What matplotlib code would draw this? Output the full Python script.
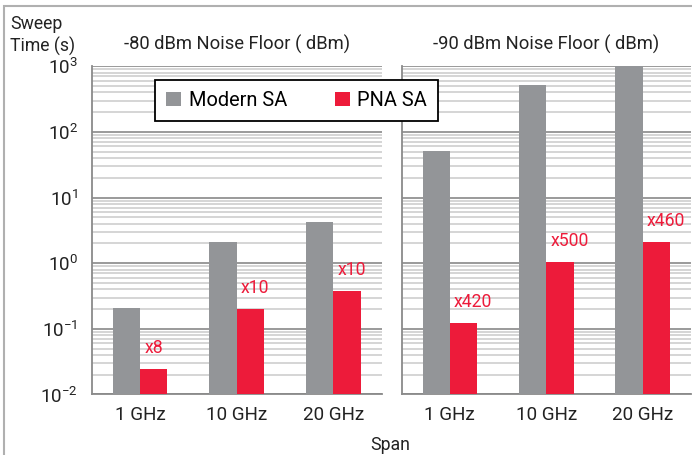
import matplotlib.pyplot as plt
import numpy as np
from matplotlib.ticker import LogLocator, FuncFormatter
from matplotlib.patches import Rectangle

plt.rcParams['font.family'] = ['Roboto', 'DejaVu Sans']
plt.rcParams['mathtext.fontset'] = 'custom'
plt.rcParams['mathtext.rm'] = 'Roboto'
plt.rcParams['mathtext.it'] = 'Roboto'

spans = ['1 GHz', '10 GHz', '20 GHz']
titles = ['-80 dBm Noise Floor ( dBm)', '-90 dBm Noise Floor ( dBm)']
modern = [[0.21, 2.1, 4.2], [51, 525, 1000]]
pna = [[0.0245, 0.2, 0.375], [0.122, 1.04, 2.1]]
ratios = [['x8', 'x10', 'x10'], ['x420', 'x500', 'x460']]

gray = '#939598'
red = '#ED1B3A'
txt = '#222222'
fs = 12.7
tfs = 13.6

fig = plt.figure(figsize=(6.92, 4.55), dpi=100)
ax0 = fig.add_axes([0.1325, 0.133, 0.419, 0.7213])
ax1 = fig.add_axes([0.5805, 0.133, 0.4176, 0.7213])

x = np.arange(len(spans))
w = 0.284
for i, ax in enumerate([ax0, ax1]):
    ax.set_yscale('log')
    ax.set_ylim(1e-2, 1e3)
    ax.set_xlim(-0.5, 2.5)
    ax.bar(x - w / 2, modern[i], w, color=gray, zorder=3, label='Modern SA')
    ax.bar(x + w / 2, pna[i], w, color=red, zorder=3, label='PNA SA')
    for j in range(len(spans)):
        ax.annotate(ratios[i][j], (x[j], pna[i][j]), xytext=(3, 8.5),
                    textcoords='offset points', color=red, fontsize=fs,
                    ha='left', va='bottom', zorder=4)
    ax.yaxis.set_major_locator(LogLocator(base=10, numticks=10))
    ax.yaxis.set_minor_locator(LogLocator(base=10, subs=np.arange(2, 10), numticks=20))
    ax.grid(True, which='major', axis='y', color='#929292', lw=1.3, zorder=1)
    ax.grid(True, which='minor', axis='y', color='#d2d2d2', lw=1.3, zorder=1)
    ax.set_xticks(x)
    ax.set_xticklabels(spans, fontsize=tfs, color=txt)
    ax.tick_params(axis='both', which='both', length=0, pad=8)
    for s in ['top', 'right']:
        ax.spines[s].set_visible(False)
    for s in ['left', 'bottom']:
        ax.spines[s].set_color('#8a8a8a')
        ax.spines[s].set_linewidth(1.3)
    ax.set_title(titles[i], fontsize=13.2, color=txt, pad=12)

ax0.yaxis.set_major_formatter(FuncFormatter(lambda v, p: r'$10^{%d}$' % round(np.log10(v))))
ax0.tick_params(axis='y', labelsize=tfs, labelcolor=txt, pad=10)
ax1.tick_params(axis='y', which='both', labelleft=False)

fig.text(10 / 692, 1 - 15 / 455, 'Sweep\nTime (s)', fontsize=fs, color=txt,
         ha='left', va='top', linespacing=1.25)
fig.text(390 / 692, 1 - 445 / 455, 'Span', fontsize=fs, color=txt,
         ha='center', va='center')

h, l = ax0.get_legend_handles_labels()
leg = fig.legend(h, l, loc='upper left', bbox_to_anchor=(155 / 692, 1 - 80 / 455),
                 ncol=2, fontsize=14.4, frameon=True, fancybox=False,
                 handlelength=0.77, handleheight=0.77, handletextpad=0.36,
                 columnspacing=2.4, borderpad=0.55, borderaxespad=0)
leg.get_frame().set_edgecolor('black')
leg.get_frame().set_linewidth(1.3)
leg.get_frame().set_alpha(1)

fig.patches.append(Rectangle((4 / 692, -0.1), 1.2, 1 - 6.5 / 455 + 0.1,
                             transform=fig.transFigure, fill=False,
                             edgecolor='#b0b0b0', lw=1.5))

fig.savefig('out.png', dpi=100)
